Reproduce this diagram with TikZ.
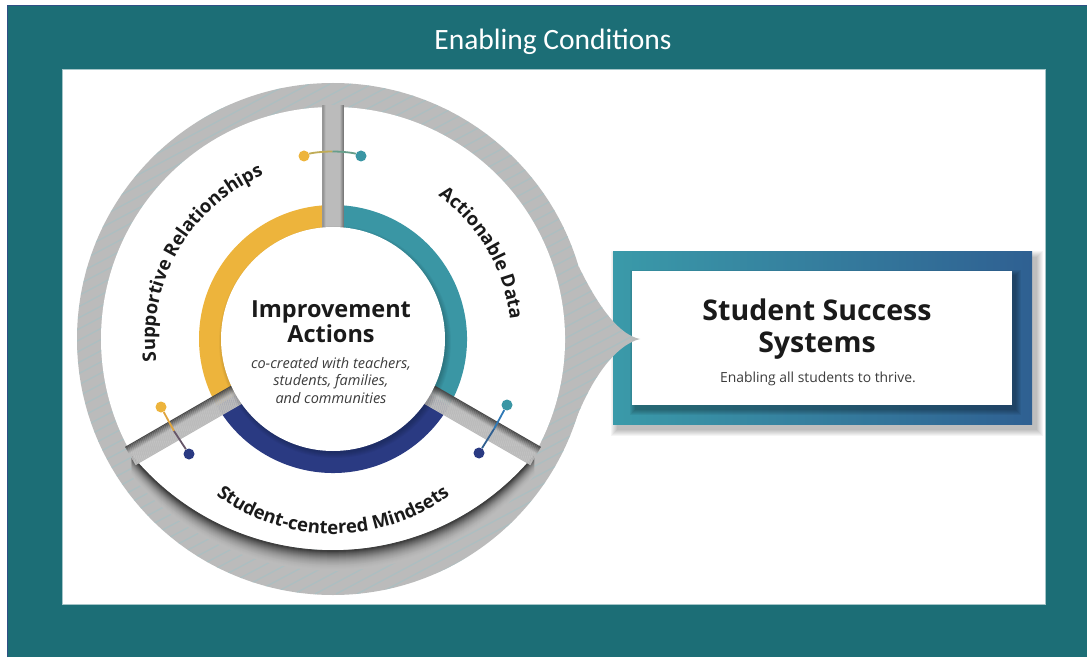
\documentclass[tikz,border=0pt]{standalone}
\usepackage{fontspec}
\setmainfont{Open Sans}
\newfontfamily\titlefont{Carlito}
\usetikzlibrary{calc,decorations.text}
\definecolor{bgteal}{HTML}{1C6E76}
\definecolor{edgeblue}{HTML}{2F4F85}
\definecolor{ringgrey}{HTML}{BBBBBB}
\definecolor{stripe}{HTML}{A3C1C5}
\definecolor{cyellow}{HTML}{EDB43C}
\definecolor{cteal}{HTML}{3A96A4}
\definecolor{cnavy}{HTML}{2A3A82}
\definecolor{boxteal}{HTML}{3A9AA9}
\definecolor{boxblue}{HTML}{2F6092}
\definecolor{ink}{HTML}{1A1A1A}
\begin{document}
\begin{tikzpicture}[x=1pt,y=1pt,
  dot/.style={circle, inner sep=0pt, minimum size=11pt},
  wire/.style={line width=1.8pt},
  arclabel/.style={decorate, decoration={text along path, text align=center, text color=ink, text={#1}}}]
\useasboundingbox (0,0) rectangle (1087,657);
\fill[white] (0,0) rectangle (1087,657);
\fill[bgteal] (7,0) rectangle (1087,652);
\draw[edgeblue, line width=1.2pt] (7.6,0) -- (7.6,651.4) -- (1087,651.4);
\fill[white] (62,53) rectangle (1045,588);
\draw[white!60!bgteal, line width=0.6pt] (62,53) rectangle (1045,588);
\node[anchor=base, text=white, font=\titlefont\fontsize{29.5}{29.5}\selectfont] (title) at (553,607.5) {Enabling Conditions};

% ---------- right box ----------
\foreach \s in {1,...,7} \fill[black, opacity=0.04] (613+5-\s,233-5-\s) rectangle (1032+4+\s,405-6+\s);
\shade[left color=boxteal, right color=boxblue] (613,233) rectangle (1032,405);
\foreach \s in {1,...,6} \fill[black, opacity=0.055] (632+4-\s,252-4-\s) rectangle (1012+3+\s,386-5+\s);
\fill[white] (632,252) rectangle (1012,386);
\node[anchor=base, text=ink, font=\bfseries\fontsize{28.5}{28.5}\selectfont] (sss1) at (817,337) {Student Success};
\node[anchor=base, text=ink, font=\bfseries\fontsize{28.5}{28.5}\selectfont] (sss2) at (817,305) {Systems};
\node[anchor=base, text=ink!85, font=\fontsize{13.9}{13.9}\selectfont] (sub) at (818,275) {Enabling all students to thrive.};

% ---------- wheel ----------
\coordinate (C) at (333,318);
\fill[ringgrey] (C) circle[radius=256];
\fill[ringgrey] (560,390) -- (560,230) -- (573,230) .. controls (590,277) and (615,312) .. (640,318) .. controls (620,322) and (600,347) .. (579,390) -- cycle;
\begin{scope}
\clip (C) circle[radius=256] (560,390) -- (560,230) -- (573,230) .. controls (590,277) and (615,312) .. (640,318) .. controls (620,322) and (600,347) .. (579,390) -- cycle;
\foreach \k in {-32,...,32} \draw[stripe, line width=1.3pt, opacity=0.6] ($(C)+(\k*21,0)+(-480,-255)$) -- ++(960,510);
\end{scope}

% shadow under bottom segment
\begin{scope}
\clip (C) circle[radius=254];
\foreach \i in {20,...,1} {
  \pgfmathtruncatemacro\p{66*((21-\i)/20)^2}
  \draw[black!\p!ringgrey, line width=1.7pt] ($(132,202)+(0,-\i)$) arc[start angle=219.4, end angle=320.6, radius=260];
}
\end{scope}

% white segments
\fill[white] (C) -- ($(C)+(90:232)$) arc[start angle=90, end angle=210, radius=232] -- cycle;
\fill[white] (C) -- ($(C)+(-30:232)$) arc[start angle=-30, end angle=90, radius=232] -- cycle;
\fill[white] (C) -- (132,202) arc[start angle=219.4, end angle=320.6, radius=260] -- cycle;

% coloured ring
\fill[cyellow] (C) -- ($(C)+(90:134)$) arc[start angle=90, end angle=210, radius=134] -- cycle;
\fill[cteal] (C) -- ($(C)+(-30:134)$) arc[start angle=-30, end angle=90, radius=134] -- cycle;
\fill[cnavy] (C) -- ($(C)+(210:134)$) arc[start angle=210, end angle=330, radius=134] -- cycle;

% dividers
\begin{scope}[shift={(C)}, rotate=90]
\foreach \k in {0,...,20} {
  \pgfmathtruncatemacro\p{max(0,35-10*\k)+max(0,20-8*(20-\k))}
  \draw[black!\p!ringgrey, line width=1.15pt] (108,-10+\k) -- (234,-10+\k);
}
\end{scope}
\begin{scope}[shift={(C)}, rotate=210]
\foreach \k in {0,...,20} {
  \pgfmathtruncatemacro\p{max(0,60-8*\k)}
  \draw[black!\p!ringgrey, line width=1.15pt] (108,-10+\k) -- (234,-10+\k);
}
\end{scope}
\begin{scope}[shift={(C)}, rotate=330]
\foreach \k in {0,...,20} {
  \pgfmathtruncatemacro\p{max(0,60-8*(20-\k))}
  \draw[black!\p!ringgrey, line width=1.15pt] (108,-10+\k) -- (234,-10+\k);
}
\end{scope}

% inner circle with soft shadow
\foreach \s in {1,...,6} \fill[black, opacity=0.035] ($(C)+(2,-3)$) circle[radius=110+\s];
\fill[white] (C) circle[radius=112];
\node[anchor=base, text=ink, font=\bfseries\fontsize{23.5}{23.5}\selectfont] (ia1) at (331,340) {Improvement};
\node[anchor=base, text=ink, font=\bfseries\fontsize{23.5}{23.5}\selectfont] (ia2) at (331,315) {Actions};
\node[anchor=base, text=ink!85, font=\itshape\fontsize{14.5}{14.5}\selectfont] (co1) at (331,289) {co-created with teachers,};
\node[anchor=base, text=ink!85, font=\itshape\fontsize{14.5}{14.5}\selectfont] (co2) at (331,271.5) {students, families,};
\node[anchor=base, text=ink!85, font=\itshape\fontsize{14.5}{14.5}\selectfont] (co3) at (331,254) {and communities};

% arc labels
\path[arclabel={|\bfseries\fontsize{18.5}{18.5}\selectfont|Supportive Relationships}] ($(C)+(196:178)$) arc[start angle=196, end angle=104, radius=178];
\path[arclabel={|\bfseries\fontsize{18.5}{18.5}\selectfont|Actionable Data}] ($(C)+(66:178)$) arc[start angle=66, end angle=-6, radius=178];
\path[arclabel={|\bfseries\fontsize{18.5}{18.5}\selectfont|Student-centered Mindsets}] ($(C)+(218:195)$) arc[start angle=218, end angle=322, radius=195];

% connector dots
\node[dot, fill=cyellow] (dA) at (304,501) {};
\node[dot, fill=cteal] (dB) at (361,501) {};
\coordinate (mAB) at (332.5,505.5);
\draw[wire, cyellow!75!cteal] (dA) .. controls (311,504) and (321.75,505.5) .. (mAB);
\draw[wire, cteal!75!cyellow] (mAB) .. controls (343.25,505.5) and (354,504) .. (dB);

\node[dot, fill=cyellow] (dC) at (161,250) {};
\node[dot, fill=cnavy] (dD) at (189,203) {};
\coordinate (mCD) at (174,226);
\draw[wire, cyellow!70!brown] (dC) -- (mCD);
\draw[wire, cnavy!60!brown] (mCD) -- (dD);

\node[dot, fill=cteal] (dE) at (507,252) {};
\node[dot, fill=cnavy] (dF) at (479,204) {};
\coordinate (mEF) at (494,228);
\draw[wire, cteal!80!blue] (dE) -- (mEF);
\draw[wire, cnavy!60!cteal] (mEF) -- (dF);
\end{tikzpicture}
\end{document}
